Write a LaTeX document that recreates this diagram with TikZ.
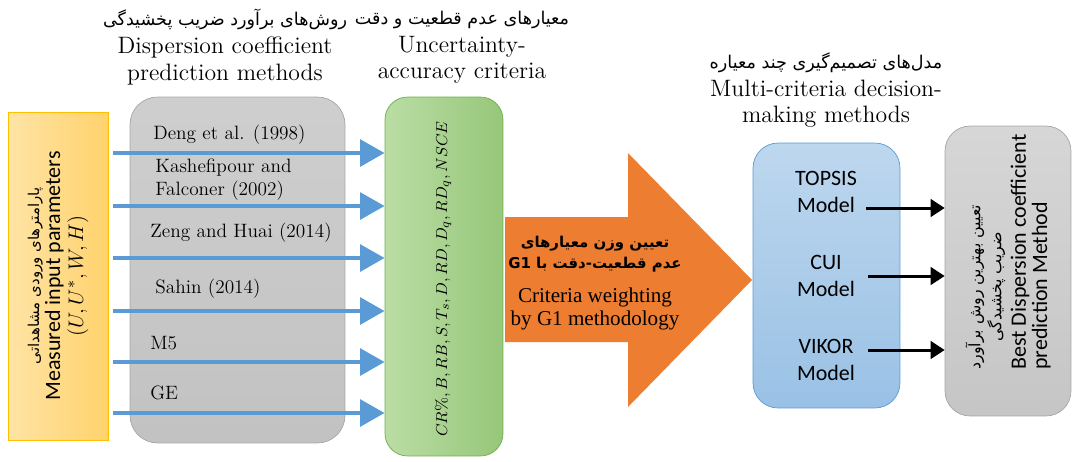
\documentclass[tikz,border=0pt]{standalone}
\usepackage{fontspec}
\usepackage{amsmath}
\usetikzlibrary{arrows.meta}
\newfontfamily\fa[Script=Arabic]{DejaVu Sans}
\newfontfamily\calfont{Carlito}
\newfontfamily\timesfont{Liberation Serif}
\TeXXeTstate=1
\newcommand{\fatxt}[2][10]{{\fa\fontsize{#1}{12}\selectfont\beginR #2\endR}}

\definecolor{flowblue}{HTML}{5B9BD5}
\definecolor{arroworange}{HTML}{ED7D31}
\definecolor{inlight}{HTML}{FFE4A6}
\definecolor{indark}{HTML}{FFD26C}
\definecolor{inedge}{HTML}{FFC000}
\definecolor{crlight}{HTML}{BADDA4}
\definecolor{crdark}{HTML}{97C77A}
\definecolor{credge}{HTML}{70AD47}

\begin{document}
\begin{tikzpicture}[x=0.02cm,y=-0.02cm,
    title/.style={align=center,font=\fontsize{13.5}{15}\selectfont},
    method/.style={anchor=west,align=left,inner sep=0pt,font=\fontsize{11}{13}\selectfont},
    model/.style={align=center,inner sep=0pt,font=\calfont\fontsize{12.5}{15}\selectfont},
    flow/.style={-{Triangle[length=14pt,width=15pt]},line width=2.8pt,color=flowblue},
    pick/.style={-{Triangle[length=8pt,width=10pt]},line width=1.7pt,color=black}]
\useasboundingbox (0,0) rectangle (1073,461);

% boxes
\node[draw=inedge,left color=inlight,right color=indark,
      minimum width=2cm,minimum height=6.56cm] (inbox) at (58,276) {};
\node[draw=gray!70,top color=gray!38,bottom color=gray!48,rounded corners=0.55cm,
      minimum width=4.3cm,minimum height=6.92cm] (methods) at (237.5,270) {};
\node[draw=credge,left color=crlight,right color=crdark,
      rounded corners=0.45cm,minimum width=2.36cm,minimum height=7.18cm] (criteria) at (444,276.5) {};
\node[draw=flowblue,top color=flowblue!40,bottom color=flowblue!62,rounded corners=0.5cm,
      minimum width=2.94cm,minimum height=5.3cm] (mcdm) at (826.5,275.5) {};
\node[draw=gray!70,top color=gray!32,bottom color=gray!45,rounded corners=0.5cm,
      minimum width=2.52cm,minimum height=5.8cm] (best) at (1008,271) {};

% orange weighting arrow
\fill[arroworange] (505,217) -- (628,217) -- (628,153) -- (752,280) -- (628,407)
  -- (628,342) -- (505,342) -- cycle;
\node[align=center,inner sep=0pt] (weight) at (595,283)
  {{\fa\bfseries\fontsize{8.5}{12}\selectfont\beginR تعیین وزن معیارهای\endR}\\
   {\fa\bfseries\fontsize{8.5}{12}\selectfont\beginR عدم قطعیت-دقت با \beginL G1\endL\endR}\\[7pt]
   {\timesfont\fontsize{12}{14}\selectfont Criteria weighting}\\[1pt]
   {\timesfont\fontsize{12}{14}\selectfont by G1 methodology}};

% titles
\node[title] (t1) at (225,47) {\fatxt{روش‌های برآورد ضریب پخشیدگی}\\[1pt]
  Dispersion coefficient\\ prediction methods};
\node[title] (t2) at (462,47) {\fatxt{معیارهای عدم قطعیت و دقت}\\[1pt]
  Uncertainty-\\ accuracy criteria};
\node[title] (t3) at (826,90) {\fatxt{مدل‌های تصمیم‌گیری چند معیاره}\\[1pt]
  Multi-criteria decision-\\ making methods};

% rotated texts
\node[rotate=90,align=center,inner sep=0pt] (intxt) at (inbox.center)
  {\fatxt[8.5]{پارامترهای ورودی مشاهداتی}\\
   {\calfont\fontsize{12.5}{14}\selectfont Measured input parameters}\\[1pt]
   {\fontsize{13}{15}\selectfont$(U,U^{*},W,H)$}};
\node[rotate=90,inner sep=0pt,font=\fontsize{9.3}{12}\selectfont] (crtxt) at (443,279)
  {$CR\%,B,RB,S,T_s,D,RD,D_q,RD_q,NSCE$};
\node[rotate=90,align=left,inner sep=0pt] (besttxt) at (1008,252)
  {\fatxt[9]{تعیین بهترین روش برآورد}\\
   \hspace*{16pt}\fatxt[9]{ضریب پخشیدگی}\\[2pt]
   {\calfont\fontsize{12.5}{15}\selectfont Best Dispersion coefficient}\\
   {\calfont\fontsize{12.5}{15}\selectfont prediction Method}};

% methods
\node[method] (deng) at (153,135) {Deng et al. (1998)};
\node[method] (kash) at (155,180) {Kashefipour and\\Falconer (2002)};
\node[method] (zeng) at (150,233) {Zeng and Huai (2014)};
\node[method] (sahin) at (155,289) {Sahin (2014)};
\node[method] (mfive) at (150,343) {M5};
\node[method] (ge) at (150,393) {GE};

% models
\node[model] (topsis) at (826,192) {TOPSIS\\Model};
\node[model] (cui) at (826,276) {CUI\\Model};
\node[model] (vikor) at (826,360) {VIKOR\\Model};

% flows into criteria
\foreach \y [count=\i] in {153,206,258,311,362,413}{
  \coordinate (in\i) at (113,\y);
  \draw[flow] (in\i) -- (in\i -| criteria.west);
}

% model outputs
\coordinate (o1) at (866,208);
\coordinate (o2) at (868,276);
\coordinate (o3) at (868,350);
\foreach \i in {1,2,3}
  \draw[pick] (o\i) -- (o\i -| best.west);
\end{tikzpicture}
\end{document}
